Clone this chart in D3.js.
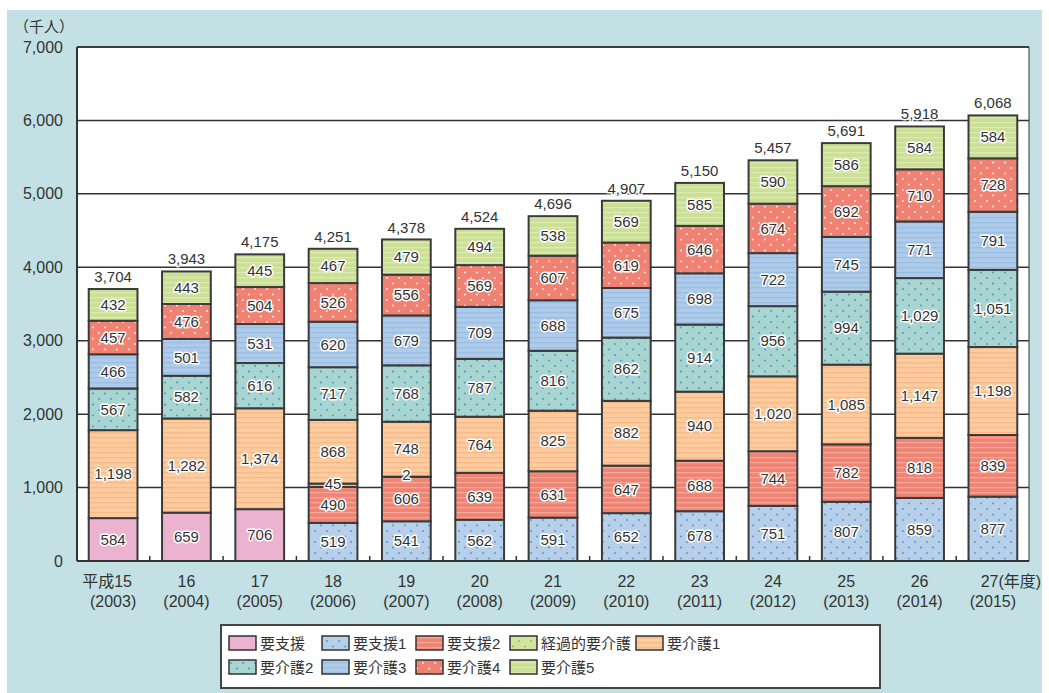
<!DOCTYPE html>
<html>
<head>
<meta charset="utf-8">
<script src="https://cdn.jsdelivr.net/npm/d3@7"></script>
<style>
  body { margin: 0; background: #fff; }
  svg text { font-family: "Liberation Sans", "Noto Sans CJK JP", sans-serif; fill: #333; }
</style>
</head>
<body>
<svg id="chart" width="1049" height="693"></svg>
<script>
// Care-level recipients by fiscal year (thousand people)
const years = ["15", "16", "17", "18", "19", "20", "21", "22", "23", "24", "25", "26", "27"];
const yearsAD = ["2003", "2004", "2005", "2006", "2007", "2008", "2009", "2010", "2011", "2012", "2013", "2014", "2015"];
const totals = [3704, 3943, 4175, 4251, 4378, 4524, 4696, 4907, 5150, 5457, 5691, 5918, 6068];

const seriesNames = ["要支援", "要支援1", "要支援2", "経過的要介護", "要介護1", "要介護2", "要介護3", "要介護4", "要介護5"];
const youShien   = [584, 659, 706, 0, 0, 0, 0, 0, 0, 0, 0, 0, 0];
const youShien1  = [0, 0, 0, 519, 541, 562, 591, 652, 678, 751, 807, 859, 877];
const youShien2  = [0, 0, 0, 490, 606, 639, 631, 647, 688, 744, 782, 818, 839];
const keika      = [0, 0, 0, 45, 2, 0, 0, 0, 0, 0, 0, 0, 0];
const youKaigo1  = [1198, 1282, 1374, 868, 748, 764, 825, 882, 940, 1020, 1085, 1147, 1198];
const youKaigo2  = [567, 582, 616, 717, 768, 787, 816, 862, 914, 956, 994, 1029, 1051];
const youKaigo3  = [466, 501, 531, 620, 679, 709, 688, 675, 698, 722, 745, 771, 791];
const youKaigo4  = [457, 476, 504, 526, 556, 569, 607, 619, 646, 674, 692, 710, 728];
const youKaigo5  = [432, 443, 445, 467, 479, 494, 538, 569, 585, 590, 586, 584, 584];
const seriesValues = [youShien, youShien1, youShien2, keika, youKaigo1, youKaigo2, youKaigo3, youKaigo4, youKaigo5];
const yTicks = [0, 1000, 2000, 3000, 4000, 5000, 6000, 7000];

// fill styles: base colour, pattern type, pattern colour
const styles = [
  { base: "#ebb3d0", kind: "solid" },
  { base: "#b7cfe9", kind: "dots",  ink: "#5b9fd6" },
  { base: "#ef8474", kind: "lines", ink: "#f5a898" },
  { base: "#d2e3a0", kind: "dots",  ink: "#9dbd5c" },
  { base: "#fdcc9e", kind: "lines", ink: "#f9b888" },
  { base: "#a9d5d1", kind: "dots",  ink: "#4f9ed4" },
  { base: "#aecbea", kind: "lines", ink: "#9bbfe4" },
  { base: "#ef8272", kind: "dots",  ink: "#fbe3dc" },
  { base: "#cbdf95", kind: "lines", ink: "#dcebb3" }
];

const svg = d3.select("#chart");
const margin = { left: 77, top: 47 };
const plotR = 1029, plotB = 561;

// background panel
svg.append("rect").attr("x", 7).attr("y", 10).attr("width", 1035).attr("height", 683).attr("fill", "#c3e1e4");

const defs = svg.append("defs");
styles.forEach((s, i) => {
  if (s.kind === "solid") return;
  const p = defs.append("pattern").attr("id", "pat" + i).attr("patternUnits", "userSpaceOnUse");
  if (s.kind === "dots") {
    p.attr("width", 12).attr("height", 11);
    p.append("rect").attr("width", 12).attr("height", 11).attr("fill", s.base);
    p.append("circle").attr("cx", 3).attr("cy", 3).attr("r", 1.1).attr("fill", s.ink);
    p.append("circle").attr("cx", 9).attr("cy", 8.5).attr("r", 1.1).attr("fill", s.ink);
  } else {
    p.attr("width", 8).attr("height", 5);
    p.append("rect").attr("width", 8).attr("height", 5).attr("fill", s.base);
    p.append("rect").attr("y", 2).attr("width", 8).attr("height", 1.3).attr("fill", s.ink);
  }
});
const fillOf = i => styles[i].kind === "solid" ? styles[i].base : `url(#pat${i})`;

const x = d3.scaleBand().domain(years).range([margin.left, plotR]).paddingInner(0.335).paddingOuter(0.16);
const y = d3.scaleLinear().domain([0, 7000]).range([plotB, margin.top]);

// plot area
svg.append("rect").attr("x", margin.left).attr("y", margin.top)
  .attr("width", plotR - margin.left).attr("height", plotB - margin.top)
  .attr("fill", "#fff");

// grid
svg.append("g").selectAll("line").data(yTicks.slice(1)).join("line")
  .attr("x1", margin.left).attr("x2", plotR)
  .attr("y1", d => y(d)).attr("y2", d => y(d))
  .attr("stroke", "#333").attr("stroke-width", 1.5);

// y axis labels
const yAxis = d3.axisLeft(y).tickValues(yTicks).tickSize(0).tickPadding(14).tickFormat(d3.format(","));
const ya = svg.append("g").attr("transform", `translate(${margin.left},0)`).call(yAxis);
ya.select(".domain").remove();
ya.selectAll("text").attr("font-size", 16).attr("fill", "#333").attr("font-family", "Liberation Sans, sans-serif");
svg.append("text").attr("x", 14).attr("y", 32).attr("font-size", 15).text("（千人）");

// stacked data
const table = years.map((yr, j) => {
  const row = { year: yr };
  seriesNames.forEach((n, i) => row[n] = seriesValues[i][j]);
  return row;
});
const stacked = d3.stack().keys(seriesNames)(table);

const layers = svg.append("g").selectAll("g").data(stacked).join("g")
  .attr("fill", (d, i) => fillOf(i));
layers.selectAll("rect").data(d => d.filter(s => s[1] - s[0] > 0)).join("rect")
  .attr("x", d => x(d.data.year))
  .attr("y", d => y(d[1]))
  .attr("width", x.bandwidth())
  .attr("height", d => y(d[0]) - y(d[1]))
  .attr("stroke", "#3a3a3a").attr("stroke-width", 2);

// frame and small category ticks
svg.append("line").attr("x1", margin.left).attr("x2", plotR).attr("y1", plotB).attr("y2", plotB)
  .attr("stroke", "#333").attr("stroke-width", 2);
svg.append("line").attr("x1", margin.left).attr("x2", margin.left).attr("y1", margin.top).attr("y2", plotB)
  .attr("stroke", "#333").attr("stroke-width", 2);
svg.append("line").attr("x1", plotR).attr("x2", plotR).attr("y1", margin.top).attr("y2", plotB)
  .attr("stroke", "#333").attr("stroke-width", 1);
svg.append("line").attr("x1", margin.left).attr("x2", plotR).attr("y1", margin.top).attr("y2", margin.top)
  .attr("stroke", "#333").attr("stroke-width", 1.5);
svg.append("g").selectAll("line").data(years.slice(1)).join("line")
  .attr("x1", d => x(d) - x.step() * x.paddingInner() / 2).attr("x2", d => x(d) - x.step() * x.paddingInner() / 2)
  .attr("y1", plotB).attr("y2", plotB - 5).attr("stroke", "#333").attr("stroke-width", 1.5);

// segment value labels
const labelData = [];
stacked.forEach(layer => layer.forEach(s => {
  const v = s[1] - s[0];
  if (v > 0) labelData.push({ year: s.data.year, v, mid: (s[0] + s[1]) / 2 });
}));
function haloText(sel) {
  sel.clone(true).lower().attr("stroke", "#fff").attr("stroke-width", 3).attr("stroke-linejoin", "round");
}
const lg = svg.append("g");
labelData.forEach(d => {
  const t = lg.append("text").attr("x", x(d.year) + x.bandwidth() / 2).attr("y", y(d.mid) - (d.v < 100 ? 2 : 0))
    .attr("dy", "0.35em").attr("text-anchor", "middle").attr("font-size", 15).text(d3.format(",")(d.v));
  haloText(t);
});

// totals
years.forEach((yr, j) => {
  const t = lg.append("text").attr("x", x(yr) + x.bandwidth() / 2).attr("y", y(totals[j]) - 7)
    .attr("text-anchor", "middle").attr("font-size", 15).text(d3.format(",")(totals[j]));
  haloText(t);
});

// x labels
years.forEach((yr, j) => {
  const cx = x(yr) + x.bandwidth() / 2;
  const first = j === 0 ? "平成" + yr : (j === years.length - 1 ? yr + "(年度)" : yr);
  const dx = j === years.length - 1 ? 18 : (j === 0 ? -6 : 0);
  svg.append("text").attr("x", cx + dx).attr("y", 587).attr("text-anchor", "middle").attr("font-size", 16).text(first);
  svg.append("text").attr("x", cx).attr("y", 607).attr("text-anchor", "middle").attr("font-size", 16).text("(" + yearsAD[j] + ")");
});

// legend
const legX = 221, legY = 625;
svg.append("rect").attr("x", legX).attr("y", legY).attr("width", 659).attr("height", 63)
  .attr("fill", "#fff").attr("stroke", "#444").attr("stroke-width", 2);
const colX = [229, 322, 416, 510, 636];
seriesNames.forEach((n, i) => {
  const r = i < 5 ? 0 : 1, c = i < 5 ? i : i - 5;
  const gx = colX[c], gy = legY + 11 + r * 24;
  svg.append("rect").attr("x", gx).attr("y", gy).attr("width", 27).attr("height", 14)
    .attr("fill", fillOf(i)).attr("stroke", "#333").attr("stroke-width", 1.5);
  svg.append("text").attr("x", gx + 31).attr("y", gy + 13).attr("font-size", 15).text(n);
});
</script>
</body>
</html>
